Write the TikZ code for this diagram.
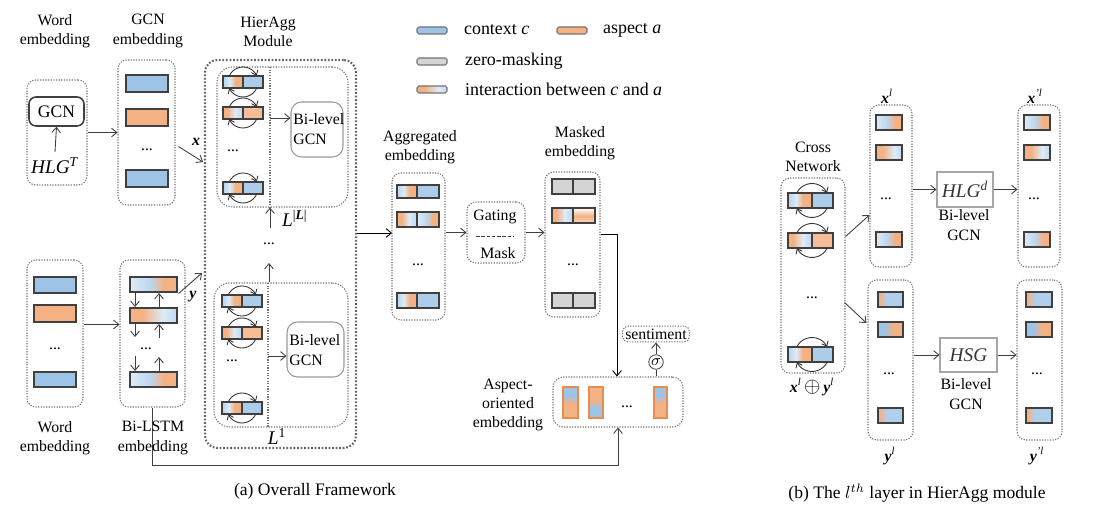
\documentclass[tikz,border=0pt]{standalone}
\usepackage{amsmath}
\usepackage{fontspec}
\setmainfont{Liberation Serif}
\usetikzlibrary{arrows.meta, positioning, fit, calc}

\definecolor{cblue}{RGB}{157,195,230}
\definecolor{cpale}{RGB}{222,235,247}
\definecolor{corange}{RGB}{244,177,131}
\definecolor{cgray}{RGB}{212,212,212}
\definecolor{cedge}{RGB}{64,64,64}
\definecolor{cvedge}{RGB}{232,140,80}

% --- Shadings of the bars (the bar spans 25bp--75bp) ---
\pgfdeclarehorizontalshading{shca}{100bp}{color(0bp)=(cblue!60!cpale); color(25bp)=(cblue!60!cpale); color(42bp)=(cpale); color(56bp)=(corange); color(100bp)=(corange)}
\pgfdeclarehorizontalshading{shac}{100bp}{color(0bp)=(corange); color(36bp)=(corange); color(55bp)=(cpale); color(75bp)=(cblue!50!cpale); color(100bp)=(cblue!50!cpale)}
\pgfdeclarehorizontalshading{shpa}{100bp}{color(0bp)=(cpale); color(25bp)=(cpale); color(47bp)=(cblue!55!cpale); color(61bp)=(corange); color(100bp)=(corange)}
\pgfdeclarehorizontalshading{shap}{100bp}{color(0bp)=(corange); color(38bp)=(corange); color(60bp)=(cpale); color(75bp)=(cblue!45!cpale); color(100bp)=(cblue!45!cpale)}
\pgfdeclarehorizontalshading{shab}{100bp}{color(0bp)=(corange); color(28bp)=(corange); color(42bp)=(cblue!80!white); color(100bp)=(cblue!80!white)}
\pgfdeclarehorizontalshading{shba}{100bp}{color(0bp)=(cblue); color(38bp)=(cblue); color(56bp)=(corange); color(100bp)=(corange)}
\pgfdeclareverticalshading{shvm}{100bp}{color(0bp)=(corange!50!white); color(25bp)=(corange!50!white); color(48bp)=(corange); color(75bp)=(white); color(100bp)=(white)}
\pgfdeclareverticalshading{shvba}{100bp}{color(0bp)=(corange); color(48bp)=(corange); color(61bp)=(cblue); color(100bp)=(cblue)}
\pgfdeclareverticalshading{shvab}{100bp}{color(0bp)=(cblue); color(42bp)=(cblue); color(53bp)=(corange); color(100bp)=(corange)}

\newcommand{\lblfont}{\fontsize{9}{11}\selectfont}
\newcommand{\legfont}{\fontsize{10.2}{12}\selectfont}
\newcommand{\capfont}{\fontsize{10}{12}\selectfont}

% two-part bar: x left, x split, x right, y top, y bottom, left look, right look
\newcommand{\splitbar}[7]{%
  \path[bar, #6] (#1,#4) rectangle (#2,#5);
  \path[bar, #7] (#2,#4) rectangle (#3,#5);}
% self-loops round a bar: x, y, radius, angle where the arc meets the bar
\newcommand{\selfloops}[4]{%
  \draw[loopline] (#1,#2) ++(180+#4:#3) arc[start angle=180+#4, end angle=360-#4, radius=#3];
  \draw[loopline] (#1,#2) ++(#4:#3) arc[start angle=#4, end angle=180-#4, radius=#3];}

\tikzset{
  box/.style={draw=black!55, dash pattern=on 0.7pt off 0.8pt, line width=0.6pt, rounded corners=5pt, inner sep=0pt},
  bigbox/.style={draw=black!60, dash pattern=on 1pt off 1pt, line width=1.2pt, rounded corners=7pt, inner sep=0pt},
  layerbox/.style={box, rounded corners=9pt},
  divline/.style={draw=black!55, dash pattern=on 0.7pt off 0.8pt, line width=0.6pt},
  gcnbox/.style={draw=black!75, line width=0.9pt, rounded corners=4pt, inner sep=0pt},
  bgcnbox/.style={draw=black!40, line width=0.6pt, rounded corners=6pt, inner sep=0pt},
  hlgbox/.style={draw=black!35, line width=0.6pt, inner sep=0pt},
  bar/.style={draw=cedge, line width=0.6pt},
  vbar/.style={draw=cvedge, line width=0.6pt},
  legbar/.style={draw=black!55, line width=0.6pt, rounded corners=1pt},
  lbl/.style={align=center, font=\lblfont, inner sep=0pt},
  arr/.style={-{Straight Barb[length=3pt, width=5pt]}, line width=0.5pt, draw=black!75},
  loopline/.style={-{Straight Barb[length=2.5pt, width=4pt]}, line width=0.5pt, draw=black!80},
  ctx/.style={fill=cblue}, asp/.style={fill=corange},
  ctxl/.style={fill=cblue!85!white}, aspl/.style={fill=corange!85!white},
  zeromask/.style={fill=cgray},
  sca/.style={shade, shading=shca}, sac/.style={shade, shading=shac},
  spa/.style={shade, shading=shpa}, sap/.style={shade, shading=shap},
  sab/.style={shade, shading=shab}, sba/.style={shade, shading=shba},
  svm/.style={shade, shading=shvm}, svba/.style={shade, shading=shvba},
  svab/.style={shade, shading=shvab},
}

\begin{document}
\begin{tikzpicture}[x=0.02cm, y=-0.02cm]
  \useasboundingbox (0,0) rectangle (1097,519);

  % --- Legend ---
  \path[legbar, ctx] (417,27) rectangle (447,34);
  \node[anchor=west, font=\legfont, inner sep=1pt] (legctx) at (462,30) {context \textit{c}};
  \path[legbar, asp] (557,27) rectangle (587,34);
  \node[anchor=west, font=\legfont, inner sep=1pt] (legasp) at (601,30) {aspect \textit{a}};
  \path[legbar, zeromask] (417,58) rectangle (447,65);
  \node[anchor=west, font=\legfont, inner sep=1pt] (legzero) at (463,61) {zero-masking};
  \path[legbar, sap] (417,86) rectangle (447,93);
  \node[anchor=west, font=\legfont, inner sep=1pt] (legint) at (463,89) {interaction between \textit{c} and \textit{a}};

  % --- Word and GCN embedding (top row) ---
  \node[lbl] (wordlblA) at (55,31) {Word\\embedding};
  \node[box, fit={(27,80) (87,185)}] (wordA) {};
  \node[gcnbox, fit={(29,97) (84,126)}] (gcn) {};
  \node[font=\fontsize{10}{12}\selectfont] (gcntxt) at (gcn) {GCN};
  \node[font=\fontsize{11}{13}\selectfont] (hlgt) at (55,166) {\textit{HLG}\textsuperscript{\textit{T}}};
  \draw[arr] (hlgt.north) -- (gcn.south);
  \node[lbl] (gcnlbl) at (148,31) {GCN\\embedding};
  \node[box, fit={(118,60) (175,205)}] (gcnemb) {};
  \path[bar, ctx] (126,75) rectangle (168,92);
  \path[bar, asp] (126,109) rectangle (168,126);
  \node[lbl] (gcndots) at (147,150) {...};
  \path[bar, ctx] (126,170) rectangle (168,187);
  \draw[arr] (wordA.east) -- (wordA.east -| gcnemb.west);
  \coordinate (xtip) at (203,162);
  \draw[arr] ([shift={(3,14)}]gcnemb.east) -- (xtip);
  \node[font=\lblfont] (xlbl) at (196,142) {\textbf{\textit{x}}};

  % --- Word and Bi-LSTM embedding (bottom row) ---
  \node[box, fit={(27,260) (83,407)}] (wordB) {};
  \path[bar, ctx] (34,277) rectangle (76,293);
  \path[bar, asp] (34,305) rectangle (76,322);
  \node[lbl] (worddots) at (55,349) {...};
  \path[bar, ctx] (34,372) rectangle (76,387);
  \node[lbl] (wordlblB) at (55,438) {Word\\embedding};
  \node[box, fit={(120,260) (185,407)}] (bilstm) {};
  \path[bar, spa] (130,277) rectangle (177,292);
  \path[bar, sap] (130,308) rectangle (177,323);
  \node[lbl] (lstmdots) at (146,349) {...};
  \path[bar, spa] (130,372) rectangle (177,387);
  % forward and backward passes
  \foreach \ya/\yb in {292/308, 323/338, 356/372} {
    \draw[arr] (135,\ya) -- (135,\yb-1);
    \draw[arr] (159,\yb) -- (159,\ya+1);
  }
  \draw[arr] ([shift={(0,-9)}]wordB.east) -- ([shift={(0,-9)}]bilstm.west);
  \coordinate (ytip) at (202,273);
  \draw[arr] ([shift={(-7,-40)}]bilstm.east) -- (ytip);
  \node[font=\lblfont] (ylbl) at (193,297) {\textbf{\textit{y}}};

  % --- HierAgg module ---
  \node[lbl] (hierlbl) at (268,32) {HierAgg\\Module};
  \node[bigbox, fit={(205,60) (356,448)}] (hieragg) {};
  % layer |L|
  \node[layerbox, fit={(217,67) (348,207)}] (layerL) {};
  \draw[divline] (270,67) -- (270,207);
  \splitbar{223}{243}{263}{76}{88}{sca}{ctxl}
  \selfloops{243}{82}{15}{24}
  \splitbar{223}{243}{263}{107}{119}{sac}{aspl}
  \selfloops{243}{113}{15}{24}
  \node[lbl] (hierdotsL) at (233,151) {...};
  \splitbar{223}{243}{263}{182}{194}{sca}{ctxl}
  \selfloops{243}{188}{15}{24}
  \node[bgcnbox, fit={(291,102) (343,157)}] (bgcnL) {};
  \node[lbl, align=left, anchor=west] (bgcnLtxt) at (293,129) {Bi-level\\GCN};
  \coordinate (divL) at (270,118);
  \draw[arr] (divL) -- (divL -| bgcnL.west);
  \coordinate (upL) at (270,228);
  \draw[arr] (upL) -- (upL |- layerL.south);
  \node[font=\fontsize{11}{13}\selectfont, anchor=west] (lblL) at (276,218) {\textit{L}\textsuperscript{|\textbf{\textit{L}}|}};
  \node[lbl] (layerdots) at (269,244) {...};
  % layer 1
  \node[layerbox, fit={(214,283) (348,427)}] (layer1) {};
  \draw[divline] (268,283) -- (268,427);
  \splitbar{222}{242}{262}{295}{307}{sca}{ctxl}
  \selfloops{242}{301}{15}{24}
  \splitbar{222}{242}{262}{327}{339}{sac}{aspl}
  \selfloops{242}{333}{15}{24}
  \node[lbl] (hierdots1) at (232,361) {...};
  \splitbar{222}{242}{262}{402}{414}{sca}{ctxl}
  \selfloops{242}{408}{15}{24}
  \node[bgcnbox, fit={(287,322) (344,377)}] (bgcn1) {};
  \node[lbl, align=left, anchor=west] (bgcn1txt) at (289,350) {Bi-level\\GCN};
  \coordinate (div1) at (268,356);
  \draw[arr] (div1) -- (div1 -| bgcn1.west);
  \coordinate (up1) at (269,263);
  \draw[arr] (up1 |- layer1.north) -- (up1);
  \node[font=\fontsize{11}{13}\selectfont] (lbl1) at (277,437) {\textit{L}\textsuperscript{1}};

  % --- Aggregated embedding ---
  \node[lbl] (agglbl) at (420,147) {Aggregated\\embedding};
  \node[box, fit={(392,173) (445,320)}] (agg) {};
  \splitbar{397}{417}{439}{185}{198}{sca}{ctxl}
  \splitbar{397}{417}{439}{212}{227}{sac}{spa}
  \node[lbl] (aggdots) at (418,265) {...};
  \splitbar{397}{417}{439}{293}{308}{sca}{ctxl}
  \coordinate (aggin) at (392,233);
  \draw[arr, draw=black] (aggin -| hieragg.east) -- (aggin);

  % --- Gating / Mask and masked embedding ---
  \node[box, fit={(467,202) (525,263)}] (gating) {};
  \node[lbl] (gatetxt) at (495,217) {Gating};
  \draw[black!75, dash pattern=on 2pt off 1pt] (476,236) -- (514,236);
  \node[lbl] (masktxt) at (498,253) {Mask};
  \node[lbl] (masklbl) at (580,143) {Masked\\embedding};
  \node[box, fit={(545,172) (600,317)}] (masked) {};
  \splitbar{552}{573}{595}{179}{194}{zeromask}{zeromask}
  \splitbar{552}{573}{595}{208}{223}{sac}{svm}
  \node[lbl] (maskdots) at (573,265) {...};
  \splitbar{552}{573}{595}{293}{308}{zeromask}{zeromask}
  \draw[arr] (agg.east |- gating.west) -- (gating.west);
  \draw[arr] (gating.east) -- (gating.east -| masked.west);

  % --- Aspect-oriented embedding and sentiment ---
  \node[lbl] (asplbl) at (508,405) {Aspect-\\oriented\\embedding};
  \node[box, rounded corners=6pt, fit={(553,377) (683,427)}] (aspect) {};
  \path[vbar, svba] (563,387) rectangle (578,418);
  \path[vbar, svab] (589,387) rectangle (603,418);
  \node[lbl] (aspdots) at (627,407) {...};
  \path[vbar, svba] (654,387) rectangle (667,418);
  \node[circle, draw=black!70, line width=0.5pt, inner sep=0pt, minimum size=0.29cm, font=\fontsize{9}{9}\selectfont] (sig) at (656,362) {$\sigma$};
  \node[box, rounded corners=3pt, inner sep=1.5pt, font=\lblfont] (senti) at (656,334) {sentiment};
  \draw[black!75, line width=0.5pt] (sig.south |- aspect.north) -- (sig.south);
  \draw[arr] (sig.north) -- (sig.north |- senti.south);
  \coordinate (turn) at (617,234);
  \draw[arr, draw=black] (masked.east |- turn) -- (turn) -- (turn |- aspect.north);
  \coordinate (low) at (150,465);
  \draw[arr] (bilstm.south) -- (bilstm.south |- low) -| (aspect.south);
  \node[lbl] (lstmlbl) at (153,438) {Bi-LSTM\\embedding};

  % --- (b) the l-th layer ---
  \node[lbl] (crosslbl) at (813,157) {Cross\\Network};
  \node[box, fit={(781,178) (845,373)}] (cross) {};
  \splitbar{788}{812}{833}{193}{208}{sca}{ctxl}
  \selfloops{812}{200.5}{17}{27}
  \splitbar{788}{812}{833}{233}{248}{sac}{aspl}
  \selfloops{812}{240.5}{17}{27}
  \node[lbl] (crossdots) at (812,298) {...};
  \splitbar{788}{812}{833}{347}{362}{sca}{ctxl}
  \selfloops{812}{354.5}{17}{27}
  \node[font=\lblfont] (xylbl) at (812,387) {\textbf{\textit{x}}\textsuperscript{\textit{l}}\,{\fontsize{12}{12}\selectfont$\oplus$}\,\textbf{\textit{y}}\textsuperscript{\textit{l}}};
  % x branch
  \node[font=\lblfont] (xllbl) at (887,96) {\textbf{\textit{x}}\textsuperscript{\textit{l}}};
  \node[box, fit={(870,105) (912,267)}] (xl) {};
  \path[bar, spa] (876,115) rectangle (902,130);
  \path[bar, sap] (876,145) rectangle (902,160);
  \node[lbl] (xldots) at (886,199) {...};
  \path[bar, spa] (876,232) rectangle (902,247);
  \node[hlgbox, fit={(937,172) (993,207)}] (hlgd) {};
  \node[font=\fontsize{11}{13}\selectfont, text=black!80] (hlgdtxt) at (hlgd) {\textit{HLG}\textsuperscript{\textit{d}}};
  \node[lbl] (bgcnA) at (964,225) {Bi-level\\GCN};
  \node[font=\lblfont] (xplbl) at (1035,96) {\textbf{\textit{x}}\textsuperscript{\textit{'l}}};
  \node[box, fit={(1018,105) (1060,267)}] (xlp) {};
  \path[bar, spa] (1024,115) rectangle (1050,130);
  \path[bar, sap] (1024,145) rectangle (1050,160);
  \node[lbl] (xlpdots) at (1034,199) {...};
  \path[bar, spa] (1024,232) rectangle (1050,247);
  \draw[arr] (xl.east |- hlgd.west) -- (hlgd.west);
  \draw[arr] (hlgd.east) -- (hlgd.east -| xlp.west);
  % y branch
  \node[box, fit={(868,280) (913,440)}] (yl) {};
  \path[bar, sab] (878,292) rectangle (903,307);
  \path[bar, sba] (878,322) rectangle (903,337);
  \node[lbl] (yldots) at (889,374) {...};
  \path[bar, sab] (878,408) rectangle (903,423);
  \node[font=\lblfont] (yllbl) at (890,456) {\textbf{\textit{y}}\textsuperscript{\textit{l}}};
  \node[hlgbox, fit={(940,338) (997,372)}] (hsg) {};
  \node[font=\fontsize{11}{13}\selectfont, text=black!80] (hsgtxt) at (hsg) {\textit{HSG}};
  \node[lbl] (bgcnB) at (966,394) {Bi-level\\GCN};
  \node[box, fit={(1017,280) (1062,440)}] (ylp) {};
  \path[bar, sab] (1026,292) rectangle (1052,307);
  \path[bar, sba] (1026,322) rectangle (1052,337);
  \node[lbl] (ylpdots) at (1037,374) {...};
  \path[bar, sab] (1026,408) rectangle (1052,423);
  \node[font=\lblfont] (yplbl) at (1037,456) {\textbf{\textit{y}}\textsuperscript{\textit{'l}}};
  \draw[arr] (yl.east |- hsg.west) -- (hsg.west);
  \draw[arr] (hsg.east) -- (hsg.east -| ylp.west);
  % cross network feeds both branches
  \draw[arr] ([shift={(0,-39)}]cross.east) -- ([shift={(0,29)}]xl.west);
  \draw[arr] ([shift={(-1,27)}]cross.east) -- ([shift={(-1,-37)}]yl.west);

  % --- Captions ---
  \node[font=\capfont] (capa) at (315,491) {(a) Overall Framework};
  \node[font=\capfont] (capb) at (917,493) {(b) The $l^{th}$ layer in HierAgg module};
\end{tikzpicture}
\end{document}
